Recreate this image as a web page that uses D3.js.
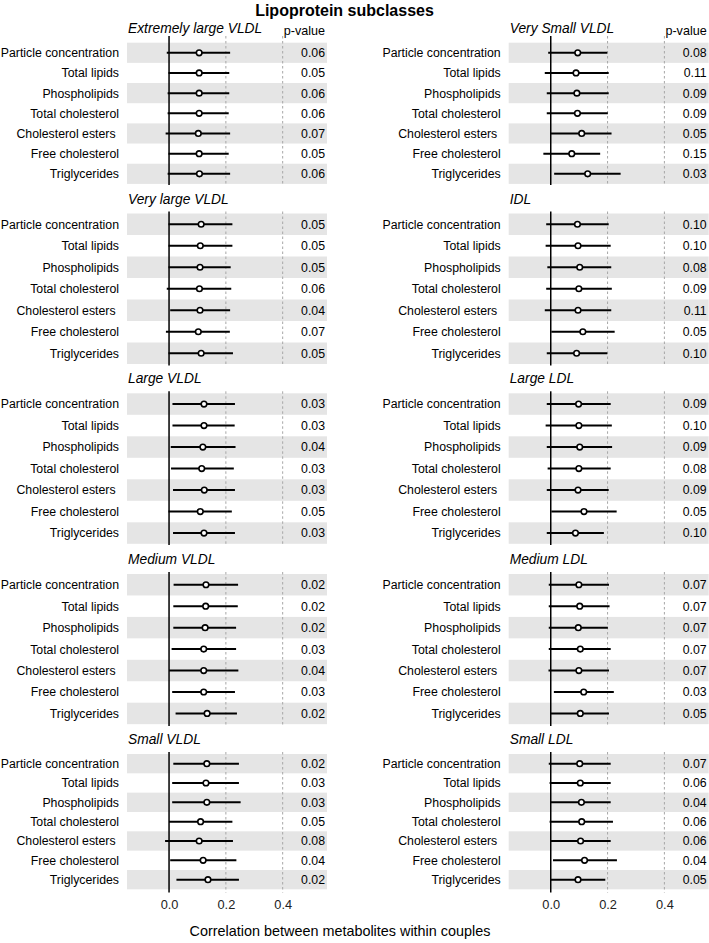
<!DOCTYPE html>
<html>
<head>
<meta charset="utf-8">
<script src="https://cdn.jsdelivr.net/npm/d3@7"></script>
<style>
  body { margin: 0; background: #fff; }
  svg text { font-family: "Liberation Sans", Arial, Helvetica, sans-serif; white-space: pre; }
</style>
</head>
<body>
<svg id="chart" width="709" height="943"></svg>
<script>
// ---------------- DATA ----------------
const metabolites = ["Particle concentration", "Total lipids", "Phospholipids", "Total cholesterol",
  "Cholesterol esters ", "Free cholesterol", "Triglycerides"];

const panelTitles = ["Extremely large VLDL", "Very large VLDL", "Large VLDL", "Medium VLDL", "Small VLDL",
  "Very Small VLDL", "IDL", "Large LDL", "Medium LDL", "Small LDL"];

const xTicks = [0.0, 0.2, 0.4];
const xTickLabels = ["0.0", "0.2", "0.4"];
const dashedRefs = [0.2, 0.4];

// Extremely large VLDL
const estXL = [0.106, 0.106, 0.106, 0.106, 0.103, 0.106, 0.107];
const loXL  = [-0.008, -0.002, -0.005, -0.005, -0.012, -0.002, -0.005];
const hiXL  = [0.215, 0.212, 0.212, 0.210, 0.215, 0.210, 0.215];
const pXL   = ["0.06", "0.05", "0.06", "0.06", "0.07", "0.05", "0.06"];
// Very large VLDL
const estVL = [0.113, 0.110, 0.109, 0.107, 0.109, 0.103, 0.113];
const loVL  = [-0.002, -0.002, -0.002, -0.008, 0.004, -0.011, -0.002];
const hiVL  = [0.223, 0.223, 0.217, 0.219, 0.215, 0.214, 0.225];
const pVL   = ["0.05", "0.05", "0.05", "0.06", "0.04", "0.07", "0.05"];
// Large VLDL
const estLV = [0.123, 0.123, 0.119, 0.115, 0.124, 0.110, 0.123];
const loLV  = [0.012, 0.012, 0.006, 0.007, 0.014, -0.002, 0.014];
const hiLV  = [0.232, 0.231, 0.234, 0.228, 0.232, 0.221, 0.232];
const pLV   = ["0.03", "0.03", "0.04", "0.03", "0.03", "0.05", "0.03"];
// Medium VLDL
const estMV = [0.130, 0.129, 0.127, 0.122, 0.122, 0.122, 0.134];
const loMV  = [0.016, 0.015, 0.015, 0.009, 0.000, 0.011, 0.023];
const hiMV  = [0.243, 0.242, 0.236, 0.236, 0.244, 0.232, 0.239];
const pMV   = ["0.02", "0.02", "0.02", "0.03", "0.04", "0.03", "0.02"];
// Small VLDL
const estSV = [0.133, 0.130, 0.133, 0.111, 0.106, 0.120, 0.137];
const loSV  = [0.015, 0.011, 0.011, 0.000, -0.014, 0.004, 0.026];
const hiSV  = [0.246, 0.246, 0.252, 0.223, 0.225, 0.237, 0.246];
const pSV   = ["0.02", "0.03", "0.03", "0.05", "0.08", "0.04", "0.02"];
// Very Small VLDL
const estXS = [0.095, 0.089, 0.092, 0.094, 0.109, 0.074, 0.130];
const loXS  = [-0.009, -0.021, -0.014, -0.014, 0.000, -0.026, 0.012];
const hiXS  = [0.199, 0.204, 0.204, 0.201, 0.214, 0.174, 0.246];
const pXS   = ["0.08", "0.11", "0.09", "0.09", "0.05", "0.15", "0.03"];
// IDL
const estIDL = [0.094, 0.096, 0.102, 0.099, 0.096, 0.113, 0.091];
const loIDL  = [-0.016, -0.018, -0.012, -0.016, -0.021, 0.002, -0.014];
const hiIDL  = [0.204, 0.211, 0.213, 0.215, 0.213, 0.225, 0.199];
const pIDL   = ["0.10", "0.10", "0.08", "0.09", "0.11", "0.05", "0.10"];
// Large LDL
const estLL = [0.098, 0.099, 0.102, 0.099, 0.096, 0.117, 0.087];
const loLL  = [-0.014, -0.018, -0.014, -0.011, -0.014, 0.002, -0.014];
const hiLL  = [0.211, 0.215, 0.216, 0.211, 0.204, 0.232, 0.187];
const pLL   = ["0.09", "0.10", "0.09", "0.08", "0.09", "0.05", "0.10"];
// Medium LDL
const estML = [0.099, 0.102, 0.097, 0.104, 0.099, 0.116, 0.104];
const loML  = [-0.007, -0.007, -0.007, -0.007, -0.008, 0.011, 0.000];
const hiML  = [0.205, 0.207, 0.201, 0.211, 0.205, 0.222, 0.205];
const pML   = ["0.07", "0.07", "0.07", "0.07", "0.07", "0.03", "0.05"];
// Small LDL
const estSL = [0.102, 0.104, 0.108, 0.109, 0.105, 0.119, 0.096];
const loSL  = [-0.007, -0.004, 0.000, -0.004, 0.000, 0.008, 0.000];
const hiSL  = [0.211, 0.211, 0.211, 0.219, 0.211, 0.233, 0.192];
const pSL   = ["0.07", "0.06", "0.04", "0.06", "0.06", "0.04", "0.05"];

const panelEst = [estXL, estVL, estLV, estMV, estSV, estXS, estIDL, estLL, estML, estSL];
const panelLo  = [loXL, loVL, loLV, loMV, loSV, loXS, loIDL, loLL, loML, loSL];
const panelHi  = [hiXL, hiVL, hiLV, hiMV, hiSV, hiXS, hiIDL, hiLL, hiML, hiSL];
const panelP   = [pXL, pVL, pLV, pMV, pSV, pXS, pIDL, pLL, pML, pSL];

// ---------------- LAYOUT ----------------
const svg = d3.select("#chart");
const colX = [[127, 327], [508.7, 708.7]];
const xDomain = [-0.148, 0.556];
// per row of panels: band top, row height, line top, line bottom
const rowsLayout = [
  { top: 42.7, rh: 20.17, lt: 36, lb: 185 },
  { top: 213.5, rh: 21.5, lt: 211.5, lb: 365.5 },
  { top: 393.3, rh: 21.5, lt: 391.3, lb: 545 },
  { top: 574, rh: 21.45, lt: 572, lb: 726 },
  { top: 754, rh: 19.33, lt: 752, lb: 892.5 }
];
const font = "Liberation Sans, Arial, Helvetica, sans-serif";

svg.append("text")
  .attr("x", 344.5).attr("y", 15.5)
  .attr("text-anchor", "middle")
  .attr("font-size", 16).attr("font-weight", "bold")
  .attr("fill", "#000")
  .text("Lipoprotein subclasses");

for (let k = 0; k < 10; k++) {
  const col = Math.floor(k / 5);
  const r = k % 5;
  const L = rowsLayout[r];
  const x = d3.scaleLinear().domain(xDomain).range(colX[col]);
  const y = d3.scaleBand().domain(metabolites).range([L.top, L.top + L.rh * metabolites.length]).padding(0);
  const g = svg.append("g");

  const est = panelEst[k], lo = panelLo[k], hi = panelHi[k], pv = panelP[k];
  const rows = metabolites.map((m, i) => ({ m, i, est: est[i], lo: lo[i], hi: hi[i], p: pv[i] }));

  // shaded bands
  g.selectAll("rect.band").data(rows.filter(d => d.i % 2 === 0)).enter()
    .append("rect")
    .attr("x", colX[col][0]).attr("width", colX[col][1] - colX[col][0])
    .attr("y", d => y(d.m)).attr("height", y.bandwidth())
    .attr("fill", "#e5e5e5");

  // dashed reference lines
  g.selectAll("line.ref").data(dashedRefs).enter()
    .append("line")
    .attr("x1", d => x(d)).attr("x2", d => x(d))
    .attr("y1", L.lt).attr("y2", L.lb)
    .attr("stroke", "#a6a6a6").attr("stroke-width", 1)
    .attr("stroke-dasharray", "2.5,2.5");

  // zero line
  g.append("line")
    .attr("x1", x(0)).attr("x2", x(0))
    .attr("y1", L.lt).attr("y2", L.lb)
    .attr("stroke", "#000").attr("stroke-width", 1.5);

  // CI lines
  g.selectAll("line.ci").data(rows).enter()
    .append("line")
    .attr("x1", d => x(d.lo)).attr("x2", d => x(d.hi))
    .attr("y1", d => y(d.m) + y.bandwidth() / 2).attr("y2", d => y(d.m) + y.bandwidth() / 2)
    .attr("stroke", "#000").attr("stroke-width", 2);

  // points
  g.selectAll("circle.pt").data(rows).enter()
    .append("circle")
    .attr("cx", d => x(d.est)).attr("cy", d => y(d.m) + y.bandwidth() / 2)
    .attr("r", 2.8)
    .attr("fill", "#fff").attr("stroke", "#000").attr("stroke-width", 1.6);

  // row labels
  g.selectAll("text.lab").data(rows).enter()
    .append("text")
    .attr("x", colX[col][0] - 8)
    .attr("y", d => y(d.m) + y.bandwidth() / 2)
    .attr("dy", "0.36em")
    .attr("text-anchor", "end")
    .attr("font-size", 12.3).attr("fill", "#000")
    .text(d => d.m);

  // p-values
  g.selectAll("text.pv").data(rows).enter()
    .append("text")
    .attr("x", x(0.549))
    .attr("y", d => y(d.m) + y.bandwidth() / 2)
    .attr("dy", "0.36em")
    .attr("text-anchor", "end")
    .attr("font-size", 12.3).attr("fill", "#000")
    .text(d => d.p);

  // panel title
  g.append("text")
    .attr("x", colX[col][0] + 1).attr("y", L.top - 10)
    .attr("font-size", 13.8).attr("font-style", "italic").attr("fill", "#000")
    .text(panelTitles[k]);

  if (r === 0) {
    g.append("text")
      .attr("x", x(0.549)).attr("y", 34.5)
      .attr("text-anchor", "end")
      .attr("font-size", 12.6).attr("fill", "#000")
      .text("p-value");
  }

  if (r === 4) {
    const axis = d3.axisBottom(x).tickValues(xTicks).tickFormat((d, i) => xTickLabels[i]).tickSize(0).tickPadding(0);
    const ax = g.append("g").attr("transform", `translate(0,${L.lb + 7})`).call(axis);
    ax.select(".domain").remove();
    ax.selectAll("text").attr("font-size", 12.8).attr("fill", "#222")
      .attr("font-family", font).attr("dy", "0.71em");
  }
}

svg.append("text")
  .attr("x", 340).attr("y", 936)
  .attr("text-anchor", "middle")
  .attr("font-size", 14.4).attr("fill", "#000")
  .text("Correlation between metabolites within couples");
</script>
</body>
</html>
